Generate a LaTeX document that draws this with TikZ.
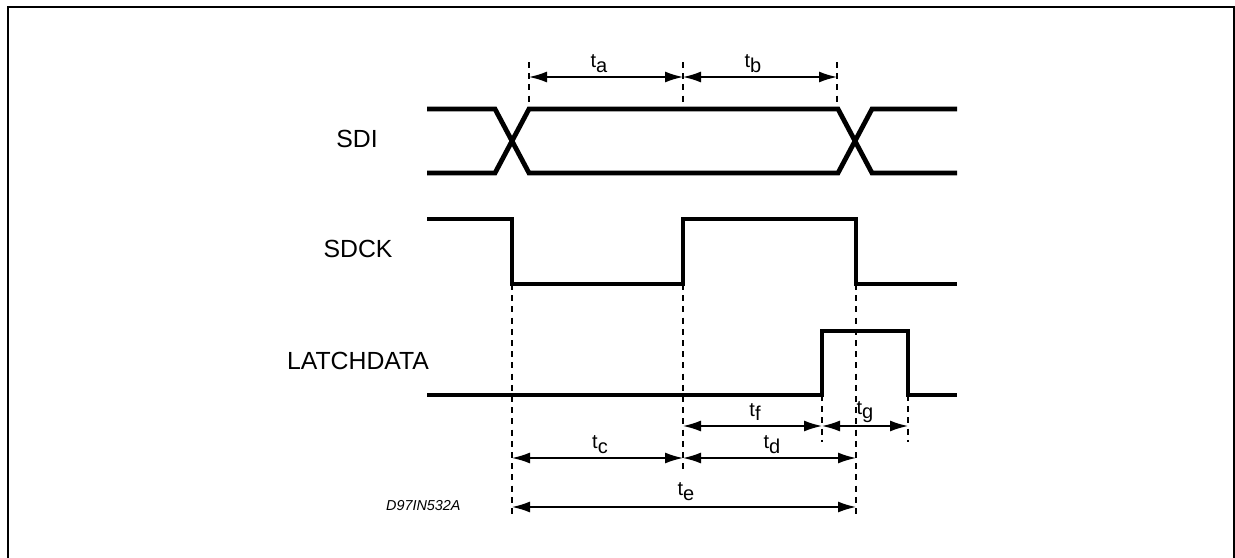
\documentclass[tikz,border=0pt]{standalone}
\usepackage{fontspec}
\setmainfont{Liberation Sans}
\usetikzlibrary{arrows.meta}
\tikzset{
    sig/.style={line width=2.4pt, line join=miter},
    guide/.style={line width=0.7pt, dash pattern=on 3pt off 2.6pt},
    dim/.style={line width=0.75pt, {Latex[length=9pt,width=5.5pt]}-{Latex[length=9pt,width=5.5pt]}},
    siglabel/.style={font=\fontsize{12.4}{14}\selectfont, inner sep=0pt},
    tlabel/.style={font=\fontsize{10}{12}\selectfont, inner sep=0pt}
}
\newcommand{\tsub}[1]{t\raisebox{-0.45ex}{#1}}

\begin{document}
\begin{tikzpicture}[x=0.5pt, y=-0.5pt]
  \useasboundingbox (0,0) rectangle (1235,557);
  % frame (runs on below the page)
  \draw[line width=1pt] (8,7) rectangle (1234,620);

  % levels
  \def\xL{427}   % start of traces
  \def\xR{957}   % end of traces

  % signal names
  \node[siglabel] (sdi)   at (357,139) {SDI};
  \node[siglabel] (sdck)  at (358,249) {SDCK};
  \node[siglabel] (latch) at (358,361) {LATCHDATA};
  \node[font=\fontsize{7.2}{8}\selectfont\itshape, inner sep=0pt, anchor=east] (ref) at (461,506) {D97IN532A};

  % SDI: data window between two crossings
  \draw[sig] (\xL,109) -- (495,109) -- (529,173) -- (838,173) -- (872,109) -- (\xR,109);
  \draw[sig] (\xL,173) -- (495,173) -- (529,109) -- (838,109) -- (872,173) -- (\xR,173);

  % SDCK
  \draw[sig] (\xL,219) -- (512,219) -- (512,284) -- (683,284) -- (683,219)
             -- (856,219) -- (856,284) -- (\xR,284);

  % LATCHDATA pulse
  \draw[sig] (\xL,395) -- (822,395) -- (822,331) -- (908,331) -- (908,395) -- (\xR,395);

  % dashed guides: name/x/top/bottom
  \foreach \n/\x/\ya/\yb in {ga/529/62/109, gb/683/62/109, gc/837/62/109,
                             gd/512/284/518, ge/683/284/474, gf/856/284/518,
                             gg/822/395/442, gh/908/395/442} {
    \coordinate (\n-top) at (\x,\ya);
    \coordinate (\n-bot) at (\x,\yb);
    \draw[guide] (\n-top) -- (\n-bot);
  }

  % timing arrows: name/left/right/y/label x/label y
  \foreach \n/\xa/\xb/\y/\lx/\ly in {a/529/683/77/599/64, b/683/837/77/753/64,
                                     f/683/822/426/755/412, g/822/908/426/865/412,
                                     c/512/683/458/600/445, d/683/856/458/772/445,
                                     e/512/856/507/686/492} {
    \coordinate (t\n-l) at (\xa,\y);
    \coordinate (t\n-r) at (\xb,\y);
    \draw[dim] (t\n-l) -- (t\n-r);
    \node[tlabel] (lab-\n) at (\lx,\ly) {\tsub{\n}};
  }
\end{tikzpicture}
\end{document}
